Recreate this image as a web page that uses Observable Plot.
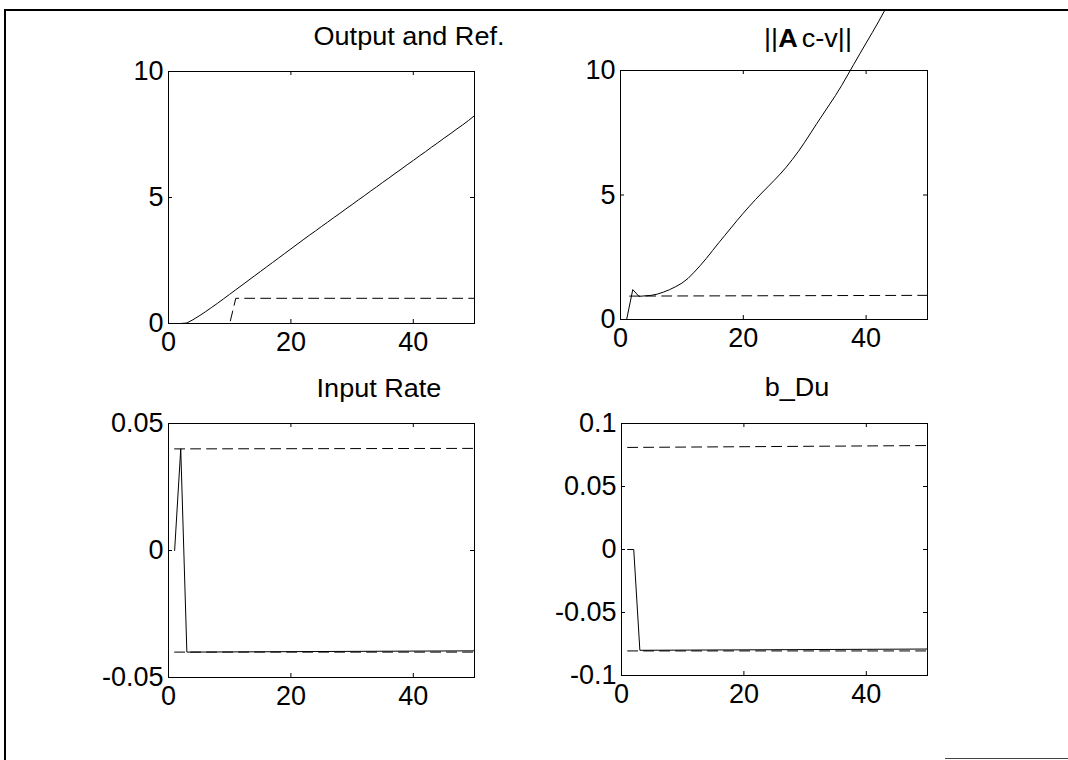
<!DOCTYPE html>
<html><head><meta charset="utf-8">
<script src="https://cdn.jsdelivr.net/npm/d3@7"></script>
<script src="https://cdn.jsdelivr.net/npm/@observablehq/plot@0.6"></script>
<style>
html,body{margin:0;padding:0;background:#fff;}
#fig{position:relative;width:1068px;height:760px;overflow:hidden;font-family:"Liberation Sans",Arial,sans-serif;background:#fff;}
.panel{position:absolute;}
.title{position:absolute;font-size:26px;color:#000;white-space:nowrap;line-height:1;transform:translateX(-50%) scaleX(1.04);}
.border{position:absolute;background:#000;}
</style></head><body><div id="fig"></div>
<script>
// ---- data ----
const xTicks = [0, 20, 40];

// Output and Ref.
const outT = [0,1,2,3,4,5,6,7,8,9,10,11,12,13,14,15,16,17,18,19,20,21,22,23,24,25,26,27,28,29,30,31,32,33,34,35,36,37,38,39,40,41,42,43,44,45,46,47,48,49,50];
const outV = [0,0,0,0.02,0.15,0.3,0.46,0.63,0.8,0.98,1.16,1.34,1.52,1.7,1.88,2.06,2.24,2.42,2.6,2.78,2.96,3.14,3.32,3.5,3.67,3.85,4.02,4.2,4.37,4.55,4.72,4.9,5.07,5.25,5.42,5.6,5.77,5.95,6.12,6.3,6.47,6.65,6.82,7.0,7.17,7.35,7.52,7.7,7.87,8.05,8.25];
const refT = [0, 10, 11, 50];
const refV = [0, 0, 1, 1];
const outTicks = [0, 5, 10];

// ||A c-v||
const errT = [1,2,3,4,5,6,7,8,9,10,11,12,13,14,15,16,17,18,19,20,21,22,23,24,25,26,27,28,29,30,31,32,33,34,35,36,37,38,39,40,41,42,43];
const errV = [0,1.2,0.93,0.95,0.97,1.02,1.1,1.2,1.32,1.46,1.65,1.9,2.17,2.46,2.77,3.08,3.38,3.68,3.98,4.27,4.55,4.82,5.08,5.33,5.58,5.84,6.12,6.43,6.76,7.12,7.5,7.88,8.25,8.62,8.99,9.39,9.82,10.25,10.68,11.1,11.52,11.95,12.4];
const errBoundT = [1.5, 50];
const errBoundV = [0.94, 0.97];
const errTicks = [0, 5, 10];

// Input Rate
const rateT = [1, 2, 3, 50];
const rateV = [0, 0.04, -0.04, -0.0395];
const rateUpT = [1, 50];
const rateUpV = [0.04, 0.0402];
const rateLoT = [1, 50];
const rateLoV = [-0.04, -0.04];
const rateTicks = [-0.05, 0, 0.05];

// b_Du
const bduT = [1, 2, 3, 50];
const bduV = [0, 0, -0.08, -0.079];
const bduUpT = [1, 50];
const bduUpV = [0.081, 0.0825];
const bduLoT = [1, 50];
const bduLoV = [-0.0805, -0.0805];
const bduTicks = [-0.1, -0.05, 0, 0.05, 0.1];

// ---- helpers ----
const tbl = (T, V) => T.map((t, i) => ({t, v: V[i]}));
const fig = document.getElementById("fig");
const W = 534, H = 380;
const dash = "10,6";
const FS = 27;

function panel(opts) {
  const {left, top, ml, mr, mt, mb, yDomain, yTicks, solid, dashed} = opts;
  const iw = W - ml - mr, ih = H - mt - mb;
  const fmt = d => String(d);
  const marks = [
    Plot.frame({stroke: "#000", strokeWidth: 1}),
    Plot.tickX(xTicks, {x: d => d, stroke: "#000", insetTop: ih - 4}),
    Plot.tickX(xTicks, {x: d => d, stroke: "#000", insetBottom: ih - 4}),
    Plot.tickY(yTicks, {y: d => d, stroke: "#000", insetRight: iw - 4}),
    Plot.tickY(yTicks, {y: d => d, stroke: "#000", insetLeft: iw - 4}),
    Plot.axisX({ticks: xTicks, anchor: "bottom", tickSize: 0, tickPadding: 8, tickFormat: fmt, label: null, fontSize: FS}),
    Plot.axisY({ticks: yTicks, anchor: "left", tickSize: 0, tickPadding: 5, tickFormat: fmt, label: null, fontSize: FS}),
    ...dashed.map(d => Plot.line(d, {x: "t", y: "v", stroke: "#000", strokeWidth: 1, strokeDasharray: dash})),
    ...solid.map(d => Plot.line(d, {x: "t", y: "v", stroke: "#000", strokeWidth: 1}))
  ];
  const p = Plot.plot({
    width: W, height: H,
    marginLeft: ml, marginRight: mr, marginTop: mt, marginBottom: mb,
    style: {background: "transparent", fontFamily: "'Liberation Sans', Arial, sans-serif", fontSize: FS + "px", color: "#000", overflow: "visible"},
    x: {domain: [0, 50]},
    y: {domain: yDomain},
    marks
  });
  p.classList.add("panel");
  p.style.left = left + "px";
  p.style.top = top + "px";
  fig.appendChild(p);
}

panel({left: 0, top: 0, ml: 168, mr: 60, mt: 71, mb: 57, yDomain: [0, 10], yTicks: outTicks,
  solid: [tbl(outT, outV)], dashed: [tbl(refT, refV)]});
panel({left: 534, top: 0, ml: 86, mr: 141, mt: 70, mb: 61, yDomain: [0, 10], yTicks: errTicks,
  solid: [tbl(errT, errV)], dashed: [tbl(errBoundT, errBoundV)]});
panel({left: 0, top: 380, ml: 168, mr: 60, mt: 43, mb: 83, yDomain: [-0.05, 0.05], yTicks: rateTicks,
  solid: [tbl(rateT, rateV)], dashed: [tbl(rateUpT, rateUpV), tbl(rateLoT, rateLoV)]});
panel({left: 534, top: 380, ml: 87, mr: 141, mt: 43, mb: 85, yDomain: [-0.1, 0.1], yTicks: bduTicks,
  solid: [tbl(bduT, bduV)], dashed: [tbl(bduUpT, bduUpV), tbl(bduLoT, bduLoV)]});

// titles
function title(html, cx, top) {
  const d = document.createElement("div");
  d.className = "title";
  d.innerHTML = html;
  d.style.left = cx + "px";
  d.style.top = top + "px";
  fig.appendChild(d);
}
title("Output and Ref.", 409, 23);
title("||<b style=\"margin-right:4px\">A</b>c-v||", 808, 25);
title("Input Rate", 379, 375);
title("b_Du", 797, 374);

// figure border
function border(l, t, w, h, c) {
  const d = document.createElement("div");
  d.className = "border";
  d.style.cssText += `left:${l}px;top:${t}px;width:${w}px;height:${h}px;` + (c ? `background:${c};` : "");
  fig.appendChild(d);
}
border(4, 9, 1064, 2);
border(4, 9, 2, 751);
border(945, 758, 123, 1, "#444");
</script></body></html>
